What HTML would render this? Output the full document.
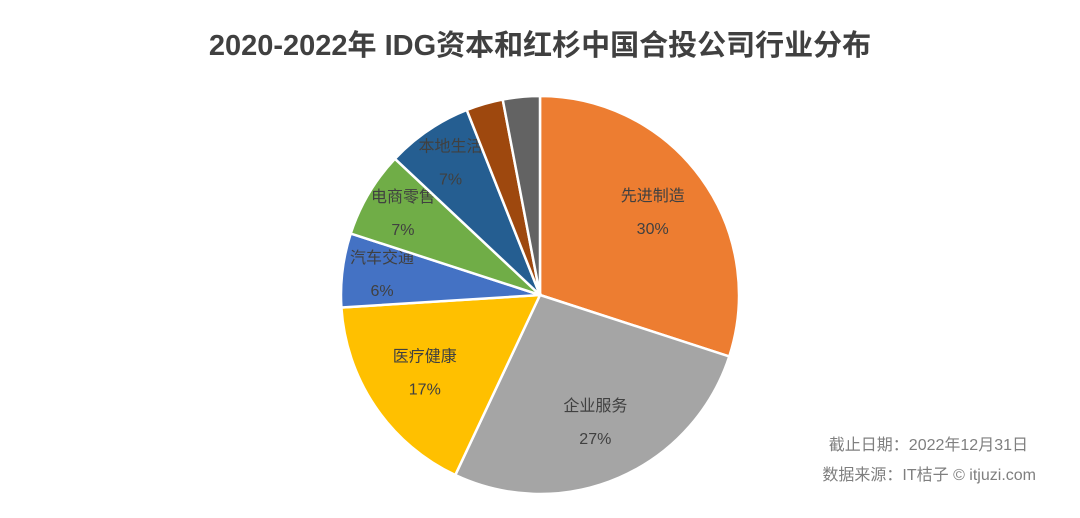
<!DOCTYPE html>
<html><head><meta charset="utf-8"><style>
body{margin:0;background:#fff;}
#wrap{position:relative;width:1080px;height:518px;overflow:hidden;font-family:"Liberation Sans","Noto Sans CJK SC",sans-serif;}
</style></head><body>
<div id="wrap">
<svg id="svg" width="1080" height="518">
<text x="540" y="55" text-anchor="middle" font-size="29" font-weight="bold" fill="#404040" font-family="Liberation Sans, Noto Sans CJK SC, sans-serif">2020-2022年 IDG资本和红杉中国合投公司行业分布</text>
<g id="slices"></g>
<text x="1028" y="450" text-anchor="end" font-size="16" fill="#7f7f7f" font-family="Liberation Sans, Noto Sans CJK SC, sans-serif">截止日期：2022年12月31日</text>
<text x="1036" y="480" text-anchor="end" font-size="16" fill="#7f7f7f" font-family="Liberation Sans, Noto Sans CJK SC, sans-serif">数据来源：IT桔子 © itjuzi.com</text>
</svg>
</div>
<script>
const categories=["先进制造","企业服务","医疗健康","汽车交通","电商零售","本地生活","其他1","其他2"];
const values=[30,27,17,6,7,7,3,3];
const showLabel=[true,true,true,true,true,true,false,false];
const colors=["#ED7D31","#A5A5A5","#FFC000","#4472C4","#70AD47","#255E91","#9E480E","#636363"];
const cx=540,cy=295,r=199;
const g=document.getElementById('slices');
const ns="http://www.w3.org/2000/svg";
const total=values.reduce((a,b)=>a+b,0);
let acc=0;
function pt(a,rr){return [cx+rr*Math.sin(a),cy-rr*Math.cos(a)];}
values.forEach((v,i)=>{
  const a0=acc/total*2*Math.PI; acc+=v; const a1=acc/total*2*Math.PI;
  const p0=pt(a0,r),p1=pt(a1,r);
  const large=(a1-a0)>Math.PI?1:0;
  const p=document.createElementNS(ns,'path');
  p.setAttribute('d',`M${cx},${cy}L${p0[0]},${p0[1]}A${r},${r} 0 ${large} 1 ${p1[0]},${p1[1]}Z`);
  p.setAttribute('fill',colors[i]);p.setAttribute('stroke','#fff');p.setAttribute('stroke-width','2.5');
  
  
  g.appendChild(p);
  if(showLabel[i]){
    const am=(a0+a1)/2; const lp=pt(am,r*(v<10?0.8:0.7));
    const t1=document.createElementNS(ns,'text');
    t1.setAttribute('x',lp[0]);t1.setAttribute('y',lp[1]-12);
    t1.setAttribute('text-anchor','middle');t1.setAttribute('font-size','16');t1.setAttribute('fill','#404040');
    t1.textContent=categories[i];
    
    
    g.appendChild(t1);
    const t2=document.createElementNS(ns,'text');
    t2.setAttribute('x',lp[0]);t2.setAttribute('y',lp[1]+21);
    t2.setAttribute('text-anchor','middle');t2.setAttribute('font-size','16');t2.setAttribute('fill','#404040');
    t2.textContent=v+'%';
    
    
    g.appendChild(t2);
  }
});
</script>
</body></html>
